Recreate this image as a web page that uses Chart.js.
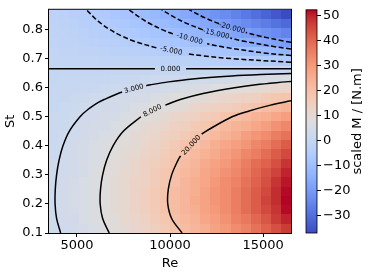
<!DOCTYPE html>
<html>
<head>
<meta charset="utf-8">
<script src="https://cdn.jsdelivr.net/npm/chart.js@4.4.1/dist/chart.umd.min.js"></script>
<style>
  html, body { margin: 0; padding: 0; background: #fff; }
  #wrap { position: relative; width: 374px; height: 275px; }
  #main { position: absolute; left: 0; top: 0; }
  #bar { position: absolute; left: 300px; top: 0; }
</style>
</head>
<body>
<div id="wrap">
  <canvas id="main" width="300" height="275"></canvas>
  <canvas id="bar" width="74" height="275"></canvas>
</div>
<script>
/* data */
const reCenters = [3771, 4313, 4854, 5396, 5938, 6479, 7021, 7563, 8104, 8646, 9188, 9729,
  10271, 10813, 11354, 11896, 12438, 12979, 13521, 14063, 14604, 15146, 15688, 16229];
const stCenters = [0.116, 0.148, 0.180, 0.212, 0.244, 0.276, 0.308, 0.340, 0.372, 0.404, 0.436, 0.468,
  0.500, 0.532, 0.564, 0.596, 0.628, 0.660, 0.692, 0.724, 0.756, 0.788, 0.820, 0.852];

// scaled M, one row per St (bottom row first), one column per Re
const mValues = [
  [3,3,4,5,6,7,9,10,12,13,15,17,19,21,23,25,28,30,33,35,38,41,44,47],
  [3,4,4,6,7,8,9,11,12,14,16,18,20,22,24,27,29,32,35,37,40,43,47,50],
  [3,4,5,6,7,8,10,11,13,15,17,19,21,23,25,28,30,33,36,39,42,45,48,52],
  [3,4,5,6,7,8,10,11,13,15,17,19,21,23,26,28,31,33,36,39,42,46,49,52.4],
  [3,4,5,6,7,8,10,11,13,15,17,19,21,23,25,28,31,33,36,39,42,45,49,52],
  [3,4,5,6,7,8,10,11,13,14,16,18,20,23,25,27,30,33,35,38,41,44,48,51],
  [3,3,4,5,7,8,9,11,12,14,16,18,20,22,24,27,29,32,34,37,40,43,46,50],
  [3,3,4,5,6,8,9,10,12,14,15,17,19,21,23,26,28,30,33,36,39,41,44,48],
  [2,3,4,5,6,7,8,10,11,13,14,16,18,20,22,24,26,29,31,34,36,39,42,45],
  [2,3,4,5,6,7,8,9,10,12,13,15,17,19,20,22,25,27,29,31,34,36,39,42],
  [2,3,3,4,5,6,7,8,10,11,12,14,15,17,19,20,22,24,26,29,31,33,36,38],
  [2,2,3,4,5,5,6,7,8,10,11,12,14,15,17,18,20,22,24,25,27,29,32,34],
  [2,2,3,3,4,5,5,6,7,8,9,10,12,13,14,16,17,19,20,22,24,25,27,29],
  [1,2,2,3,3,4,4,5,6,7,8,8,9,10,12,13,14,15,16,18,19,21,22,24],
  [1,1,2,2,3,3,4,4,5,5,6,7,8,8,9,10,11,12,13,14,15,17,18,19],
  [0.7,0.9,1.1,1.4,1.7,2,2.3,2.7,3.1,3.5,4,4.5,5,5.5,6.1,6.7,7.3,7.9,8.6,9.3,10,10.8,11.6,12.4],
  [0.4,0.5,0.6,0.7,0.9,1,1.2,1.4,1.6,1.9,2.1,2.4,2.6,2.9,3.2,3.5,3.9,4.2,4.6,4.9,5.3,5.7,6.1,6.6],
  [0,0.1,0.1,0.1,0.1,0.1,0.2,0.2,0.2,0.2,0.3,0.3,0.3,0.4,0.4,0.5,0.5,0.6,0.6,0.7,0.7,0.8,0.8,0.9],
  [-0.3,-0.4,-0.5,-0.6,-0.8,-0.9,-1.1,-1.2,-1.4,-1.6,-1.8,-2,-2.3,-2.5,-2.8,-3.1,-3.4,-3.7,-4,-4.3,-4.6,-5,-5.3,-5.7],
  [-0.7,-0.9,-1.1,-1.4,-1.7,-2,-2.4,-2.7,-3.1,-3.6,-4,-4.5,-5,-5.6,-6.2,-6.8,-7.4,-8,-8.7,-9.4,-10.2,-11,-11.8,-12.6],
  [-1,-1.4,-1.7,-2.1,-2.6,-3.1,-3.6,-4.2,-4.8,-5.5,-6.2,-7,-7.8,-8.6,-9.5,-10.4,-11.4,-12.4,-13.4,-14.5,-15.7,-16.9,-18.1,-19.4],
  [-1.4,-1.8,-2.3,-2.8,-3.4,-4,-4.7,-5.5,-6.3,-7.1,-8.1,-9,-10.1,-11.2,-12.3,-13.5,-14.8,-16.1,-17.5,-18.9,-20.4,-21.9,-23.5,-25.2],
  [-1.7,-2.2,-2.8,-3.4,-4.1,-4.9,-5.8,-6.7,-7.7,-8.8,-9.9,-11.1,-12.4,-13.7,-15.2,-16.6,-18.2,-19.8,-21.5,-23.3,-25.1,-27,-28.9,-31],
  [-2,-2.6,-3.3,-4.1,-4.9,-5.9,-6.9,-8,-9.2,-10.4,-11.8,-13.2,-14.7,-16.3,-18,-19.8,-21.6,-23.5,-25.5,-27.6,-29.8,-32,-34.4,-36.8]
];

const colorMin = -36.8;
const colorMax = 52.4;

const reTicks = [5000, 10000, 15000];
const stTicks = [0.1, 0.2, 0.3, 0.4, 0.5, 0.6, 0.7, 0.8];
const cbTicks = [-30, -20, -10, 0, 10, 20, 30, 40, 50];

// contour lines as [Re, St] points, null = gap where the label sits
const contourLevels = [0, 3, 8, 20, -5, -10, -15, -20];
const contour0 = [[3500,0.665],[9190,0.665],null,[10860,0.665],[16500,0.665]];
const contour3 = [[4125,0.10],[3907,0.15],[3827,0.20],[3837,0.25],[3907,0.30],[4038,0.35],[4250,0.40],
  [4588,0.45],[5166,0.50],[5590,0.525],[6175,0.55],[6488,0.56],[7213,0.58],[7428,0.585],null,
  [8725,0.607],[8948,0.61],[9920,0.62],[11210,0.63],[13325,0.64],[14858,0.645],[16500,0.6488]];
const contour8 = [[6735,0.10],[6381,0.15],[6249,0.20],[6267,0.25],[6381,0.30],[6595,0.35],[6940,0.40],
  [7491,0.45],[8436,0.50],null,[9752,0.54],[10596,0.56],[11778,0.58],[13472,0.60],[14612,0.61],
  [16200,0.62],[16500,0.6217]];
const contour20 = [[10649,0.10],[10088,0.15],[9880,0.20],[9908,0.25],[10088,0.30],[10426,0.35],
  [10566,0.365],null,[11700,0.44],[11924,0.45],[13337,0.50],[14250,0.52],[15400,0.54],[16500,0.555]];
const contourM5 = [[16500,0.6877],[13295,0.70],[11726,0.71],[10907,0.717],null,[9270,0.737],[8070,0.76],
  [7335,0.78],[6770,0.80],[6318,0.82],[5946,0.84],[5519,0.868]];
const contourM10 = [[16500,0.7105],[15000,0.72],[12845,0.74],[11996,0.751],null,[10155,0.785],
  [9575,0.80],[8935,0.82],[8410,0.84],[7804,0.868]];
const contourM15 = [[16500,0.7332],[15732,0.74],[13978,0.76],[13233,0.771],null,[11770,0.799],
  [10943,0.82],[10299,0.84],[9558,0.868]];
const contourM20 = [[16500,0.756],[16140,0.76],[15000,0.775],[14071,0.79],null,[12636,0.82],
  [11893,0.84],[11037,0.868]];
const contourLines = [contour0, contour3, contour8, contour20, contourM5, contourM10, contourM15, contourM20];

/* label placement for the contour labels */
const contourLabels = [
  { text: '0.000', re: 10027, st: 0.665, angle: 0 },
  { text: '3.000', re: 8060, st: 0.596, angle: -15 },
  { text: '8.000', re: 9060, st: 0.520, angle: -27 },
  { text: '20.000', re: 11150, st: 0.402, angle: -48 },
  { text: '-5.000', re: 10060, st: 0.727, angle: 12 },
  { text: '-10.000', re: 11050, st: 0.768, angle: 16 },
  { text: '-15.000', re: 12480, st: 0.785, angle: 14 },
  { text: '-20.000', re: 13330, st: 0.805, angle: 15 }
];

/* coolwarm colormap */
const coolwarm = [
  [59,76,192],[68,90,204],[77,104,215],[87,117,225],[98,130,234],[108,142,241],[119,154,247],
  [130,165,251],[141,176,254],[152,185,255],[163,194,255],[174,201,253],[184,208,249],[194,213,244],
  [204,217,238],[213,219,230],[221,221,221],[229,216,209],[236,211,197],[241,204,185],[245,196,173],
  [247,187,160],[247,177,148],[247,166,135],[244,154,123],[241,141,111],[236,127,99],[229,112,88],
  [222,96,77],[213,80,66],[203,62,56],[192,40,47],[180,4,38]
];
function cmap(t) {
  t = Math.max(0, Math.min(1, t));
  const f = t * (coolwarm.length - 1);
  const i = Math.min(Math.floor(f), coolwarm.length - 2);
  const k = f - i;
  const a = coolwarm[i], b = coolwarm[i + 1];
  return 'rgb(' + Math.round(a[0] + (b[0] - a[0]) * k) + ',' +
    Math.round(a[1] + (b[1] - a[1]) * k) + ',' + Math.round(a[2] + (b[2] - a[2]) * k) + ')';
}

Chart.defaults.font.family = "'DejaVu Sans', sans-serif";
Chart.defaults.font.size = 13;
Chart.defaults.color = '#000';

function edges(centers, lo, hi) {
  const e = [lo];
  for (let i = 0; i < centers.length - 1; i++) e.push((centers[i] + centers[i + 1]) / 2);
  e.push(hi);
  return e;
}

const heatPlugin = {
  id: 'heat',
  beforeDatasetsDraw(chart) {
    const ctx = chart.ctx, xs = chart.scales.x, ys = chart.scales.y;
    const xe = edges(reCenters, xs.min, xs.max);
    const ye = edges(stCenters, ys.min, ys.max);
    for (let r = 0; r < stCenters.length; r++) {
      for (let c = 0; c < reCenters.length; c++) {
        const x0 = Math.round(xs.getPixelForValue(xe[c]));
        const x1 = Math.round(xs.getPixelForValue(xe[c + 1]));
        const y0 = Math.round(ys.getPixelForValue(ye[r + 1]));
        const y1 = Math.round(ys.getPixelForValue(ye[r]));
        ctx.fillStyle = cmap((mValues[r][c] - colorMin) / (colorMax - colorMin));
        ctx.fillRect(x0, y0, x1 - x0, y1 - y0);
      }
    }
  },
  afterDatasetsDraw(chart) {
    const ctx = chart.ctx, xs = chart.scales.x, ys = chart.scales.y;
    ctx.save();
    ctx.fillStyle = '#000';
    ctx.font = "7px 'DejaVu Sans'";
    ctx.textAlign = 'center';
    ctx.textBaseline = 'middle';
    contourLabels.forEach(l => {
      ctx.save();
      ctx.translate(xs.getPixelForValue(l.re), ys.getPixelForValue(l.st));
      ctx.rotate(l.angle * Math.PI / 180);
      ctx.fillText(l.text, 0, 0);
      ctx.restore();
    });
    ctx.restore();
  },
  afterDraw(chart) {
    const ctx = chart.ctx, a = chart.chartArea;
    ctx.save();
    ctx.strokeStyle = '#000';
    ctx.lineWidth = 1;
    ctx.strokeRect(a.left - 0.5, a.top - 0.5, a.right - a.left + 1, a.bottom - a.top + 1);
    ctx.restore();
  }
};

new Chart(document.getElementById('main'), {
  type: 'scatter',
  data: {
    datasets: contourLines.map((pts, i) => ({
      data: pts.map(p => p ? { x: p[0], y: p[1] } : { x: NaN, y: NaN }),
      showLine: true,
      borderColor: '#000',
      borderWidth: 1.5,
      borderDash: contourLevels[i] < 0 ? [5, 2.5] : [],
      pointRadius: 0,
      pointHoverRadius: 0,
      tension: 0.35
    }))
  },
  options: {
    responsive: false,
    animation: false,
    events: [],
    layout: { padding: { top: 9, right: 9, left: 0, bottom: 0 } },
    plugins: { legend: { display: false }, tooltip: { enabled: false } },
    scales: {
      x: {
        type: 'linear', min: 3500, max: 16500,
        afterBuildTicks: s => { s.ticks = reTicks.map(v => ({ value: v })); },
        afterFit: s => { s.height = 42; },
        ticks: { callback: v => String(v), padding: 1, maxRotation: 0 },
        grid: { drawOnChartArea: false, tickLength: 4, color: '#000' },
        border: { display: false },
        title: { display: true, text: 'Re', padding: { top: 0, bottom: 4 } }
      },
      y: {
        type: 'linear', min: 0.1, max: 0.868,
        afterBuildTicks: s => { s.ticks = stTicks.map(v => ({ value: v })); },
        afterFit: s => { s.width = 49; },
        ticks: { callback: v => v.toFixed(1), padding: 2 },
        grid: { drawOnChartArea: false, tickLength: 4, color: '#000' },
        border: { display: false },
        title: { display: true, text: 'St', padding: { top: 3, bottom: 0 } }
      }
    }
  },
  plugins: [heatPlugin]
});

/* colorbar */
const barPlugin = {
  id: 'colorbar',
  beforeDatasetsDraw(chart) {
    const ctx = chart.ctx, a = chart.chartArea;
    const g = ctx.createLinearGradient(0, a.bottom, 0, a.top);
    coolwarm.forEach((c, i) => g.addColorStop(i / (coolwarm.length - 1), 'rgb(' + c.join(',') + ')'));
    ctx.fillStyle = g;
    ctx.fillRect(a.left, a.top, a.right - a.left, a.bottom - a.top);
    ctx.strokeStyle = '#000';
    ctx.lineWidth = 0.8;
    ctx.strokeRect(a.left, a.top, a.right - a.left, a.bottom - a.top);
  },
  afterDraw(chart) {
    const ctx = chart.ctx, a = chart.chartArea;
    ctx.save();
    ctx.translate(58, (a.top + a.bottom) / 2);
    ctx.rotate(-Math.PI / 2);
    ctx.fillStyle = '#000';
    ctx.font = "13px 'DejaVu Sans'";
    ctx.textAlign = 'center';
    ctx.textBaseline = 'middle';
    ctx.fillText('scaled M / [N.m]', 0, 0);
    ctx.restore();
  }
};

new Chart(document.getElementById('bar'), {
  type: 'scatter',
  data: { datasets: [] },
  options: {
    responsive: false,
    animation: false,
    events: [],
    layout: { padding: { top: 9, left: 6, right: 0, bottom: 42 } },
    plugins: { legend: { display: false }, tooltip: { enabled: false } },
    scales: {
      x: { display: false, min: 0, max: 1 },
      y: {
        position: 'right', min: colorMin, max: colorMax,
        afterBuildTicks: s => { s.ticks = cbTicks.map(v => ({ value: v })); },
        afterFit: s => { s.width = 57; },
        ticks: { callback: v => String(v).replace('-', '\u2212'), padding: 2 },
        grid: { drawOnChartArea: false, tickLength: 4, color: '#000' },
        border: { display: false }
      }
    }
  },
  plugins: [barPlugin]
});
</script>
</body>
</html>
